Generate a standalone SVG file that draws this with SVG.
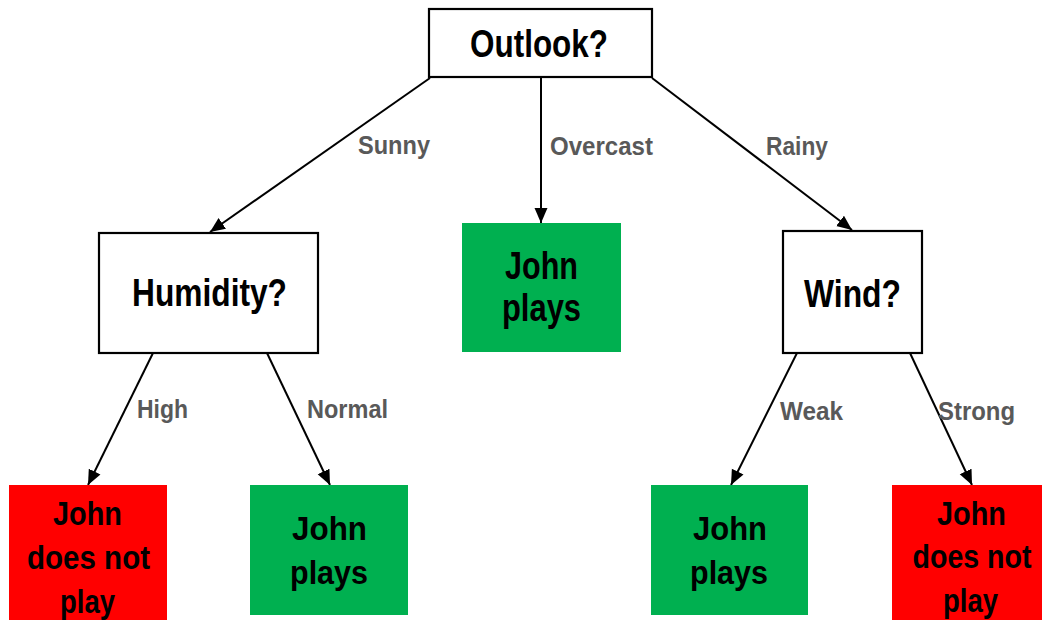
<svg xmlns="http://www.w3.org/2000/svg" width="1042" height="620" viewBox="0 0 1042 620">
<style>
.q{fill:#fff;stroke:#000;stroke-width:2.2}
.g{fill:#00B050}
.r{fill:#FF0000}
.t{font-family:"Liberation Sans",Arial,sans-serif;font-weight:bold;fill:#000;text-anchor:middle}
.big{font-size:38px}
.mid{font-size:33px}
.lab{font-family:"Liberation Sans",Arial,sans-serif;font-weight:bold;font-size:25px;fill:#595959}
.c{stroke:#000;stroke-width:2;fill:none;marker-end:url(#ah)}
</style>
<defs>
<marker id="ah" markerUnits="userSpaceOnUse" markerWidth="15" markerHeight="14" viewBox="0 0 15 13" refX="15" refY="6.5" orient="auto">
<path d="M0,0 L15,6.5 L0,13 z" fill="#000"/>
</marker>
</defs>
<rect width="1042" height="620" fill="#fff"/>
<g id="connectors">
<line class="c" x1="430" y1="78" x2="210" y2="232"/>
<line class="c" x1="541" y1="77" x2="541" y2="223"/>
<line class="c" x1="652" y1="78" x2="852" y2="230"/>
<line class="c" x1="153" y1="353" x2="88" y2="485"/>
<line class="c" x1="267" y1="353" x2="330" y2="485"/>
<line class="c" x1="797" y1="353" x2="731" y2="485"/>
<line class="c" x1="910" y1="353" x2="972" y2="485"/>
<text class="lab" x="358" y="154" textLength="72" lengthAdjust="spacingAndGlyphs">Sunny</text>
<text class="lab" x="550" y="155" textLength="103" lengthAdjust="spacingAndGlyphs">Overcast</text>
<text class="lab" x="766" y="155" textLength="62" lengthAdjust="spacingAndGlyphs">Rainy</text>
<text class="lab" x="137" y="418" textLength="51" lengthAdjust="spacingAndGlyphs">High</text>
<text class="lab" x="307" y="418" textLength="81" lengthAdjust="spacingAndGlyphs">Normal</text>
<text class="lab" x="780" y="420" textLength="63" lengthAdjust="spacingAndGlyphs">Weak</text>
<text class="lab" x="938" y="420" textLength="77" lengthAdjust="spacingAndGlyphs">Strong</text>
</g>
<g id="outlook">
<rect class="q" x="429" y="9" width="223" height="68"/>
<text class="t big" x="539" y="57" textLength="138" lengthAdjust="spacingAndGlyphs">Outlook?</text>
</g>
<g id="humidity">
<rect class="q" x="99" y="233" width="219" height="120"/>
<text class="t big" x="209.5" y="306" textLength="155" lengthAdjust="spacingAndGlyphs">Humidity?</text>
</g>
<g id="overcast-plays">
<rect class="g" x="462" y="223" width="159" height="129"/>
<text class="t big" x="541.5" y="279" textLength="73" lengthAdjust="spacingAndGlyphs">John</text>
<text class="t big" x="541.5" y="321" textLength="79" lengthAdjust="spacingAndGlyphs">plays</text>
</g>
<g id="wind">
<rect class="q" x="783" y="231" width="139" height="122"/>
<text class="t big" x="852.5" y="307" textLength="97" lengthAdjust="spacingAndGlyphs">Wind?</text>
</g>
<g id="high-noplay">
<rect class="r" x="9" y="485" width="158" height="140"/>
<text class="t mid" x="87.5" y="525" textLength="69" lengthAdjust="spacingAndGlyphs">John</text>
<text class="t mid" x="88.5" y="569" textLength="123" lengthAdjust="spacingAndGlyphs">does not</text>
<text class="t mid" x="87.5" y="613" textLength="55" lengthAdjust="spacingAndGlyphs">play</text>
</g>
<g id="normal-plays">
<rect class="g" x="250" y="485" width="158" height="130"/>
<text class="t mid" x="329.5" y="540" textLength="75" lengthAdjust="spacingAndGlyphs">John</text>
<text class="t mid" x="329" y="584" textLength="78" lengthAdjust="spacingAndGlyphs">plays</text>
</g>
<g id="weak-plays">
<rect class="g" x="651" y="485" width="157" height="130"/>
<text class="t mid" x="730" y="540" textLength="74" lengthAdjust="spacingAndGlyphs">John</text>
<text class="t mid" x="729" y="584" textLength="78" lengthAdjust="spacingAndGlyphs">plays</text>
</g>
<g id="strong-noplay">
<rect class="r" x="892" y="485" width="160" height="140"/>
<text class="t mid" x="971.5" y="525" textLength="69" lengthAdjust="spacingAndGlyphs">John</text>
<text class="t mid" x="972" y="568" textLength="119" lengthAdjust="spacingAndGlyphs">does not</text>
<text class="t mid" x="970.5" y="612" textLength="55" lengthAdjust="spacingAndGlyphs">play</text>
</g>
</svg>
